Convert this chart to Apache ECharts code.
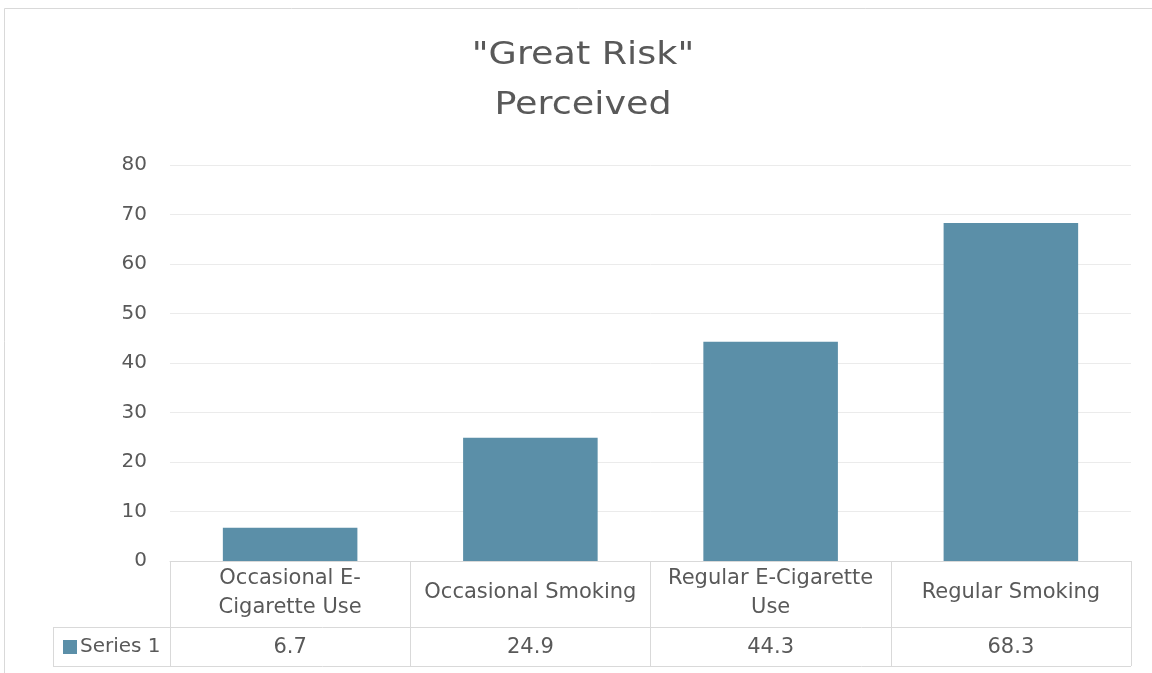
<!DOCTYPE html>
<html>
<head>
<meta charset="utf-8">
<script src="https://cdn.jsdelivr.net/npm/echarts@6/dist/echarts.min.js"></script>
<style>
  html, body { margin: 0; padding: 0; background: #fff; }
  #chart { width: 1152px; height: 673px; }
</style>
</head>
<body>
<div id="chart"></div>
<script>
// Categories (header row of the data table) and the single series
const categories = ['Occasional E-\nCigarette Use', 'Occasional Smoking', 'Regular E-Cigarette\nUse', 'Regular Smoking'];
const seriesName = 'Series 1';
const values = [6.7, 24.9, 44.3, 68.3];
const yTicks = [0, 10, 20, 30, 40, 50, 60, 70, 80];
const titleText = '"Great Risk"\nPerceived';

const FONT = 'DejaVu Sans, sans-serif';
const TEXT = '#595959';
const LINE = '#d9d9d9';
const BAR = '#5b8fa8';

// plot area and data table geometry
const G = { left: 170, right: 21, top: 165, bottom: 112 };
const W = 1152, H = 673;
const plotRight = W - G.right;
const plotBottom = H - G.bottom;
const rowSplit = 627, tableBottom = 666, legendLeft = 53;

const chart = echarts.init(document.getElementById('chart'));

function hline(x1, x2, y) {
  return { type: 'line', silent: true, shape: { x1, y1: y, x2, y2: y }, style: { stroke: LINE, lineWidth: 1 } };
}
function vline(x, y1, y2) {
  return { type: 'line', silent: true, shape: { x1: x, y1, x2: x, y2 }, style: { stroke: LINE, lineWidth: 1 } };
}

const graphics = [
  // chart frame
  { type: 'rect', silent: true, shape: { x: 4.5, y: 8.5, width: 1160, height: 680 }, style: { fill: 'none', stroke: LINE, lineWidth: 1 } },
  // two-line title, slightly widened
  {
    type: 'text', silent: true, x: 583, y: 31, scaleX: 1.14,
    style: {
      text: titleText, align: 'center', verticalAlign: 'top',
      font: 'normal 32px DejaVu Sans, sans-serif', lineHeight: 50, fill: TEXT
    }
  },
  // data table rules not covered by the axes
  hline(legendLeft, plotRight, rowSplit + 0.5),
  hline(legendLeft, plotRight, tableBottom + 0.5),
  vline(legendLeft + 0.5, rowSplit, tableBottom)
];

chart.setOption({
  animation: false,
  textStyle: { fontFamily: FONT },
  legend: {
    data: [seriesName],
    left: 58,
    top: 632,
    itemWidth: 14,
    itemHeight: 14,
    icon: 'rect',
    textStyle: { fontFamily: FONT, fontSize: 20, color: TEXT, padding: [0, 0, 0, -2] }
  },
  grid: { left: G.left, right: G.right, top: G.top, bottom: G.bottom, containLabel: false },
  xAxis: [
    {
      type: 'category',
      data: categories,
      position: 'bottom',
      axisLine: { show: true, lineStyle: { color: LINE, width: 1 } },
      axisTick: { show: true, alignWithLabel: false, length: tableBottom - plotBottom, lineStyle: { color: LINE, width: 1 } },
      axisLabel: {
        interval: 0, margin: 32, verticalAlign: 'middle',
        fontFamily: FONT, fontSize: 21, color: TEXT, lineHeight: 29, align: 'center'
      }
    },
    {
      type: 'category',
      data: values.map(v => v.toFixed(1)),
      position: 'bottom',
      axisLine: { show: false },
      axisTick: { show: false },
      axisLabel: {
        interval: 0, margin: 87, verticalAlign: 'middle',
        fontFamily: FONT, fontSize: 21, color: TEXT
      }
    }
  ],
  yAxis: {
    type: 'value',
    min: yTicks[0],
    max: yTicks[yTicks.length - 1],
    interval: yTicks[1] - yTicks[0],
    axisLine: { show: false },
    axisTick: { show: false },
    splitLine: { lineStyle: { color: '#ebebeb', width: 1 } },
    axisLabel: { margin: 23, fontFamily: FONT, fontSize: 20, color: TEXT }
  },
  series: [{
    name: seriesName,
    type: 'bar',
    data: values,
    xAxisIndex: 0,
    barCategoryGap: '44%',
    itemStyle: { color: BAR }
  }],
  graphic: graphics
});
</script>
</body>
</html>
